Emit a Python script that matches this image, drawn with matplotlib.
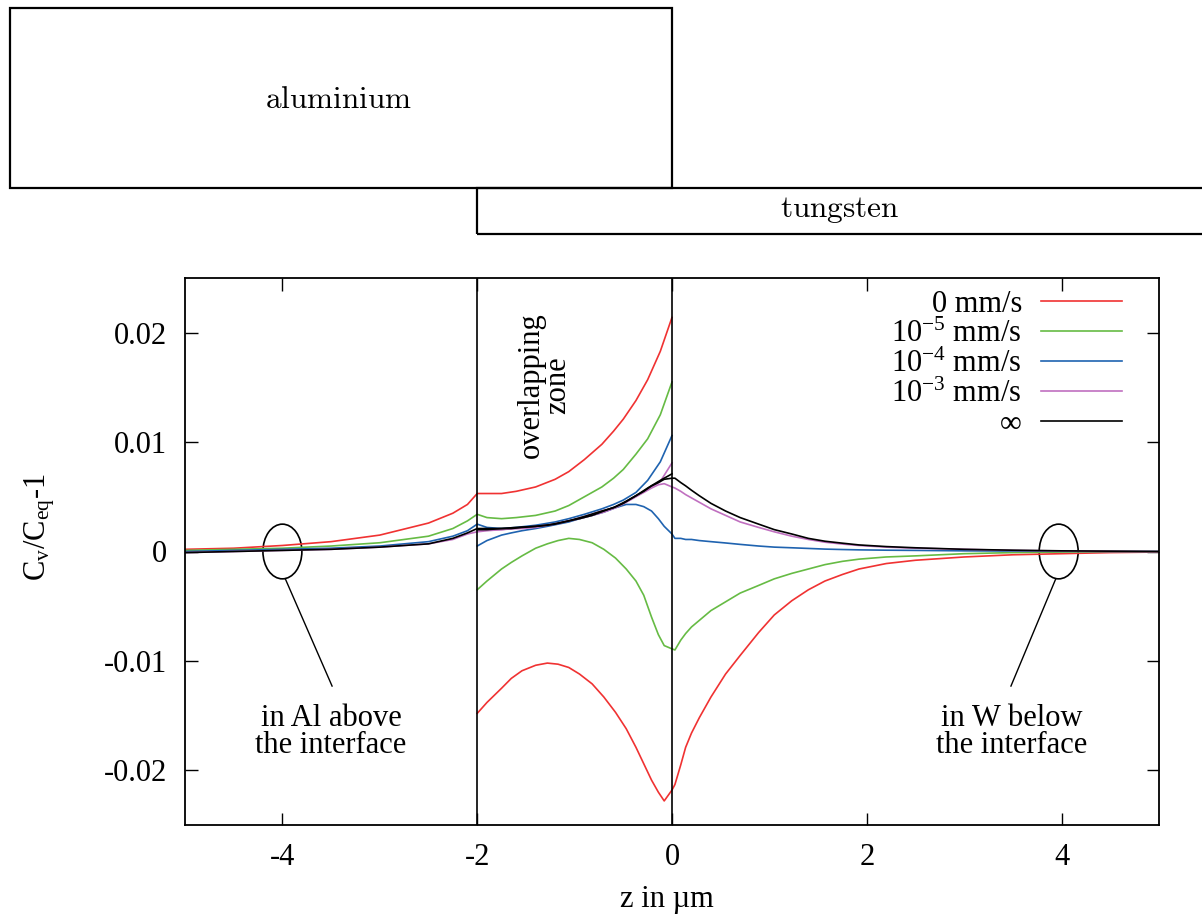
import matplotlib
matplotlib.use("Agg")
import matplotlib.pyplot as plt
from matplotlib.patches import Rectangle, Ellipse
from matplotlib.transforms import blended_transform_factory

plt.rcParams['font.family'] = ['Liberation Serif', 'DejaVu Serif']
plt.rcParams['mathtext.fontset'] = 'custom'
plt.rcParams['mathtext.rm'] = 'Liberation Serif'
plt.rcParams['mathtext.it'] = 'Liberation Serif:italic'

# ---- data -------------------------------------------------------------
series_labels = ['0 mm/s', r'10$^{\mathregular{-5}}$ mm/s', r'10$^{\mathregular{-4}}$ mm/s',
                 r'10$^{\mathregular{-3}}$ mm/s', '\u221e']

# aluminium branch (z from -5 to 0)
z_al = [-5, -4.5, -4, -3.5, -3, -2.5, -2.25, -2.1, -2.0, -1.9, -1.75, -1.6, -1.4, -1.2,
        -1.06, -0.9, -0.72, -0.6, -0.5, -0.37, -0.25, -0.12, 0.0]
al_v0 = [0.0002, 0.0003, 0.00055, 0.0009, 0.0015, 0.0026, 0.0035, 0.0043, 0.0053, 0.0053,
         0.0053, 0.0055, 0.0059, 0.0066, 0.0073, 0.0084, 0.0098, 0.0110, 0.0121, 0.0138,
         0.0157, 0.0183, 0.0214]
al_v5 = [0.0001, 0.0002, 0.0003, 0.0005, 0.0008, 0.0014, 0.0021, 0.0028, 0.0034, 0.0031,
         0.0030, 0.0031, 0.0033, 0.0037, 0.0042, 0.0050, 0.0059, 0.0067, 0.0075, 0.0089,
         0.0103, 0.0125, 0.0155]
al_v4 = [0.0, 0.0001, 0.0002, 0.0003, 0.0005, 0.0009, 0.0014, 0.0019, 0.0025, 0.0022,
         0.0021, 0.0022, 0.0024, 0.0027, 0.0030, 0.0034, 0.0039, 0.0043, 0.0047, 0.0054,
         0.0065, 0.0082, 0.0106]
al_v3 = [-0.0001, 0.0, 0.0001, 0.0002, 0.0004, 0.0007, 0.0011, 0.0016, 0.0018, 0.0019,
         0.0020, 0.0021, 0.0023, 0.0025, 0.0028, 0.0032, 0.0037, 0.0040, 0.0044, 0.0051,
         0.0057, 0.0064, 0.0081]
al_inf = [-0.0001, 0.0, 0.0001, 0.0002, 0.0004, 0.0007, 0.0012, 0.0017, 0.0021, 0.0021,
          0.0021, 0.0022, 0.0023, 0.0025, 0.0028, 0.0032, 0.0037, 0.0040, 0.0044, 0.0051,
          0.0058, 0.0065, 0.0071]

# tungsten branch (z from -2 to 5)
z_w = [-2.0, -1.9, -1.75, -1.65, -1.54, -1.4, -1.28, -1.17, -1.06, -0.95, -0.82, -0.7,
       -0.58, -0.47, -0.37, -0.29, -0.21, -0.14, -0.08, 0.0, 0.03, 0.09, 0.14, 0.2, 0.28,
       0.4, 0.55, 0.7, 0.89, 1.05, 1.23, 1.4, 1.57, 1.75, 1.92, 2.2, 2.5, 3.0, 3.5, 4.0,
       4.5, 5.0]
w_v0 = [-0.0148, -0.0138, -0.0125, -0.0116, -0.0109, -0.0104, -0.0102, -0.0103, -0.0106,
        -0.0112, -0.0121, -0.0133, -0.0147, -0.0162, -0.0179, -0.0194, -0.0209, -0.0220,
        -0.0228, -0.0218, -0.0213, -0.0195, -0.0179, -0.0166, -0.0152, -0.0133, -0.0112,
        -0.0095, -0.0074, -0.0058, -0.0045, -0.0035, -0.0027, -0.0021, -0.0016, -0.0011,
        -0.0008, -0.0005, -0.0003, -0.0002, -0.0001, -0.00005]
w_v5 = [-0.0035, -0.0027, -0.0016, -0.0010, -0.0004, 0.0003, 0.0007, 0.0010, 0.0012,
        0.0011, 0.0008, 0.0002, -0.0006, -0.0016, -0.0027, -0.0040, -0.0060, -0.0076,
        -0.0086, -0.0089, -0.0090, -0.0081, -0.0075, -0.0069, -0.0063, -0.0054, -0.0046,
        -0.0038, -0.0031, -0.0025, -0.0020, -0.0016, -0.0012, -0.0009, -0.0007, -0.0005,
        -0.0004, -0.0002, -0.0001, -0.00005, 0.0, 0.0]
w_v4 = [0.0005, 0.0010, 0.0015, 0.0017, 0.0019, 0.0021, 0.0023, 0.0025, 0.0027, 0.0030,
        0.0033, 0.0036, 0.0040, 0.0043, 0.0043, 0.0041, 0.0037, 0.0030, 0.0023, 0.0016,
        0.0012, 0.0012, 0.0011, 0.0011, 0.0010, 0.0009, 0.00078, 0.00065, 0.0005, 0.0004,
        0.00034, 0.00028, 0.00022, 0.00018, 0.00015, 0.00012, 0.0001, 0.00006, 0.00004,
        0.00002, 0.0, 0.0]
w_v3 = [0.0019, 0.0020, 0.0020, 0.0021, 0.0021, 0.0022, 0.0024, 0.0026, 0.0028, 0.0030,
        0.0033, 0.0036, 0.0040, 0.0045, 0.0050, 0.0054, 0.0058, 0.0061, 0.0062, 0.0059,
        0.0058, 0.0055, 0.0052, 0.0049, 0.0045, 0.0039, 0.0033, 0.0027, 0.0022, 0.0018,
        0.0014, 0.0011, 0.00085, 0.00068, 0.00055, 0.0004, 0.0003, 0.0002, 0.0001,
        0.00005, 0.00002, 0.0]
w_inf = [0.0020, 0.0020, 0.0021, 0.0021, 0.0022, 0.0023, 0.0024, 0.0026, 0.0028, 0.0030,
         0.0033, 0.0037, 0.0041, 0.0046, 0.0051, 0.0055, 0.0060, 0.0063, 0.0066, 0.0067,
         0.0067, 0.0063, 0.0060, 0.0056, 0.0051, 0.0044, 0.0037, 0.0031, 0.0025, 0.0020,
         0.0016, 0.0012, 0.00094, 0.00076, 0.0006, 0.00045, 0.00034, 0.0002, 0.00012,
         0.00006, 0.00003, 0.0]

colors = ['#f03232', '#66bb44', '#1f63b0', '#c070c0', '#000000']

FS = 22

# ---- figure -----------------------------------------------------------
W, H = 1202, 917
fig = plt.figure(figsize=(W / 100, H / 100), dpi=100)
ax_l, ax_r, ax_t, ax_b = 185, 1159, 278, 825
ax = fig.add_axes([ax_l / W, 1 - ax_b / H, (ax_r - ax_l) / W, (ax_b - ax_t) / H])

al_series = [al_v0, al_v5, al_v4, al_v3, al_inf]
w_series = [w_v0, w_v5, w_v4, w_v3, w_inf]
for a, w, c in zip(al_series, w_series, colors):
    ax.plot(z_al, a, color=c, lw=1.2)
    ax.plot(z_w, w, color=c, lw=1.2)

ax.axvline(-2, color='black', lw=1.2)
ax.axvline(0, color='black', lw=1.2)

ax.set_xlim(-5, 5)
ax.set_ylim(-0.025, 0.025)
ax.set_xticks([-4, -2, 0, 2, 4])
ax.set_xticklabels(['-4', '-2', '0', '2', '4'])
ax.set_yticks([-0.02, -0.01, 0, 0.01, 0.02])
ax.set_yticklabels(['-0.02', '-0.01', '0', '0.01', '0.02'])
ax.tick_params(direction='in', length=9, width=1.0, top=True, right=True,
               labelsize=FS, pad=13)
for s in ax.spines.values():
    s.set_linewidth(1.3)

ax.set_xlabel('z in \u00b5m', fontsize=FS)
ax.set_ylabel(r'C$_{\mathregular{v}}$/C$_{\mathregular{eq}}$-1', fontsize=FS)
ax.xaxis.set_label_coords((667 - ax_l) / (ax_r - ax_l), (ax_b - 900) / (ax_b - ax_t))
ax.xaxis.label.set_va('center')
ax.yaxis.set_label_coords((40 - ax_l) / (ax_r - ax_l), (ax_b - 527) / (ax_b - ax_t))
ax.yaxis.label.set_va('center')

# key (gnuplot style: label right-aligned, sample line to the right)
def fx(px):
    return (px - ax_l) / (ax_r - ax_l)

def fy(py):
    return (ax_b - py) / (ax_b - ax_t)

key_rows = [301, 331, 361, 391, 421]
for lab, c, yy in zip(series_labels, colors, key_rows):
    ax.plot([fx(1041), fx(1122)], [fy(yy), fy(yy)], color=c, lw=1.2,
            transform=ax.transAxes, clip_on=False)
    ax.text(fx(1022), fy(yy + 11), lab, transform=ax.transAxes, ha='right',
            va='baseline', fontsize=FS)

# annotations
ax.text(-1.31, 0.0152, 'overlapping\nzone', rotation=90, ha='center', va='center',
        fontsize=FS, linespacing=0.9)
ax.add_patch(Ellipse((-4.0, 0.0), 0.4, 0.0050, fill=False, lw=1.2, color='black'))
ax.add_patch(Ellipse((3.97, 0.0), 0.4, 0.0050, fill=False, lw=1.2, color='black'))
ax.plot([-3.97, -3.49], [-0.0025, -0.0123], color='black', lw=1.0)
ax.plot([3.94, 3.48], [-0.0025, -0.0123], color='black', lw=1.0)
ax.text(-3.5, -0.01653, 'in Al above\nthe interface', ha='center', va='center',
        fontsize=FS, linespacing=0.9)
ax.text(3.49, -0.01653, 'in W below\nthe interface', ha='center', va='center',
        fontsize=FS, linespacing=0.9)

# material boxes at the top (x in data units, y in figure fraction)
trans = blended_transform_factory(ax.transData, fig.transFigure)
y_al_top, y_al_bot, y_w_bot = 1 - 8 / H, 1 - 188 / H, 1 - 234 / H
ax.add_patch(Rectangle((-6.8, y_al_bot), 6.8, y_al_top - y_al_bot, transform=trans,
                       fill=False, lw=1.6, color='black', clip_on=False))
ax.add_patch(Rectangle((-2.0, y_w_bot), 8.0, y_al_bot - y_w_bot, transform=trans,
                       fill=False, lw=1.6, color='black', clip_on=False))
ax.text(-3.42, 1 - 100 / H, r'$\mathrm{aluminium}$', transform=trans, math_fontfamily='cm',
        ha='center', va='center', fontsize=22.5)
ax.text(1.72, 1 - 210 / H, r'$\mathrm{tungsten}$', transform=trans, math_fontfamily='cm',
        ha='center', va='center', fontsize=22.5)

ax.set_xlim(-5, 5)
ax.set_ylim(-0.025, 0.025)

fig.savefig('out.png', dpi=100)
